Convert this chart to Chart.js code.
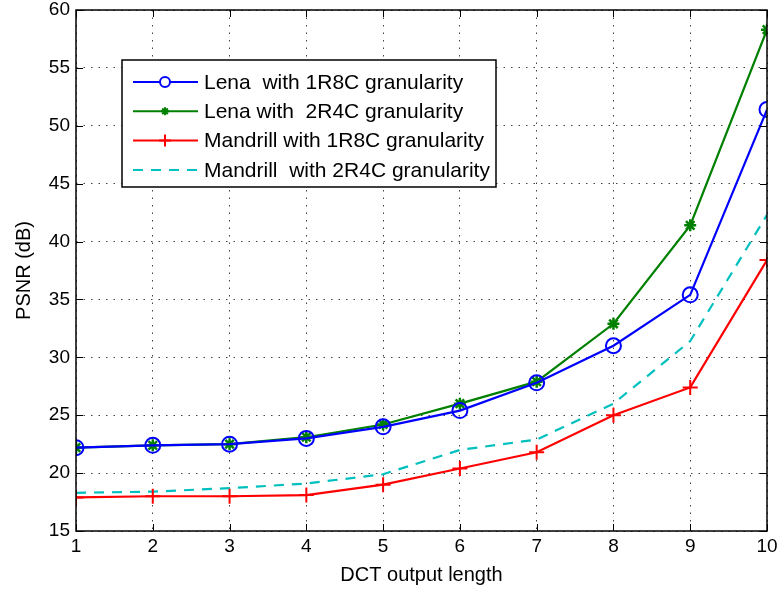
<!DOCTYPE html>
<html>
<head>
<meta charset="utf-8">
<script src="https://cdn.jsdelivr.net/npm/chart.js@4.4.0/dist/chart.umd.min.js"></script>
<style>
  html, body { margin: 0; padding: 0; background: #fff; }
  #wrap { width: 782px; height: 591px; }
</style>
</head>
<body>
<div id="wrap"><canvas id="myChart"></canvas></div>
<script>
// DCT output length
const lengths = [1, 2, 3, 4, 5, 6, 7, 8, 9, 10];
const lena1R8C = [22.2, 22.4, 22.5, 23.0, 24.0, 25.4, 27.8, 31.0, 35.4, 51.4];
const lena2R4C = [22.2, 22.4, 22.5, 23.1, 24.2, 26.0, 27.9, 32.9, 41.4, 58.3];
const mandrill1R8C = [17.9, 18.0, 18.0, 18.1, 19.0, 20.4, 21.8, 25.0, 27.4, 38.4];
const mandrill2R4C = [18.3, 18.4, 18.7, 19.1, 19.9, 22.0, 22.9, 26.0, 31.4, 42.3];
const yTicks = [15, 20, 25, 30, 35, 40, 45, 50, 55, 60];

const font = "Liberation Sans, Arial, sans-serif";

function pts(arr) {
	return arr.map((v, i) => ({ x: lengths[i], y: v }));
}

// box + inward ticks, matlab style
const boxPlugin = {
	id: "box",
	afterDatasetsDraw(chart) {
		const { ctx, chartArea: a, scales } = chart;
		ctx.save();
		ctx.strokeStyle = "#000";
		ctx.lineWidth = 1.5;
		ctx.strokeRect(a.left, a.top, a.right - a.left, a.bottom - a.top);
		ctx.lineWidth = 1;
		ctx.beginPath();
		lengths.forEach((v) => {
			const x = Math.round(scales.x.getPixelForValue(v)) + 0.5;
			ctx.moveTo(x, a.bottom); ctx.lineTo(x, a.bottom - 7);
			ctx.moveTo(x, a.top); ctx.lineTo(x, a.top + 7);
		});
		yTicks.forEach((v) => {
			const y = Math.round(scales.y.getPixelForValue(v)) + 0.5;
			ctx.moveTo(a.left, y); ctx.lineTo(a.left + 7, y);
			ctx.moveTo(a.right, y); ctx.lineTo(a.right - 7, y);
		});
		ctx.stroke();
		ctx.restore();
	},
};

// legend box inside the plot
const legendPlugin = {
	id: "innerLegend",
	afterDraw(chart) {
		const { ctx } = chart;
		const x0 = 122, y0 = 60, w = 374, h = 127;
		ctx.save();
		ctx.fillStyle = "#fff";
		ctx.fillRect(x0, y0, w, h);
		ctx.strokeStyle = "#000";
		ctx.lineWidth = 1.5;
		ctx.strokeRect(x0, y0, w, h);
		ctx.font = "21px " + font;
		ctx.textBaseline = "middle";
		chart.data.datasets.forEach((ds, i) => {
			const y = y0 + 22 + i * 29.3;
			ctx.strokeStyle = ds.borderColor;
			ctx.lineWidth = 2;
			ctx.setLineDash(ds.borderDash || []);
			ctx.beginPath();
			ctx.moveTo(x0 + 11, y); ctx.lineTo(x0 + 76, y);
			ctx.stroke();
			ctx.setLineDash([]);
			if (ds.pointRadius > 0) {
				ctx.strokeStyle = ds.borderColor;
				ctx.fillStyle = ds.pointStyle === "circle" ? "#fff" : ds.borderColor;
				Chart.helpers.drawPoint(ctx, {
					pointStyle: ds.pointStyle,
					radius: ds.legendRadius,
					borderWidth: 2,
				}, x0 + 43, y);
			}
			ctx.fillStyle = "#000";
			ctx.fillText(ds.label, x0 + 82, y + 1);
		});
		ctx.restore();
	},
};

const ctx = document.getElementById("myChart").getContext("2d");
const myChart = new Chart(ctx, {
	type: "line",
	data: {
		datasets: [
			{
				label: "Lena  with 1R8C granularity",
				data: pts(lena1R8C),
				borderColor: "#0000ff",
				pointStyle: "circle",
				pointRadius: 7.5,
				legendRadius: 5,
				pointBorderWidth: 2,
				pointBackgroundColor: "rgba(0,0,0,0)",
				pointBorderColor: "#0000ff",
			},
			{
				label: "Lena with  2R4C granularity",
				data: pts(lena2R4C),
				borderColor: "#008000",
				pointStyle: "star",
				pointRadius: 6,
				legendRadius: 4,
				pointBorderWidth: 2.5,
				pointBorderColor: "#008000",
			},
			{
				label: "Mandrill with 1R8C granularity",
				data: pts(mandrill1R8C),
				borderColor: "#ff0000",
				pointStyle: "cross",
				pointRadius: 7.5,
				legendRadius: 6,
				pointBorderWidth: 2,
				pointBorderColor: "#ff0000",
			},
			{
				label: "Mandrill  with 2R4C granularity",
				data: pts(mandrill2R4C),
				borderColor: "#00bfbf",
				borderDash: [10, 8],
				pointRadius: 0,
			},
		],
	},
	options: {
		animation: false,
		responsive: true,
		maintainAspectRatio: false,
		elements: { line: { borderWidth: 2.2, tension: 0 } },
		layout: { padding: { top: 10, right: 15, left: 0, bottom: 0 } },
		plugins: { legend: { display: false }, tooltip: { enabled: false } },
		scales: {
			x: {
				type: "linear",
				min: 1,
				max: 10,
				afterBuildTicks(s) { s.ticks = lengths.map((v) => ({ value: v })); },
				afterFit(s) { s.height = 60; s.paddingLeft = 0; s.paddingRight = 0; },
				grid: { color: "#444", lineWidth: 1, drawTicks: false },
				border: { display: false, dash: [1.5, 6] },
				ticks: { color: "#000", font: { family: font, size: 19 }, padding: 4, maxRotation: 0 },
				title: { display: true, text: "DCT output length", color: "#000", font: { family: font, size: 20 }, padding: { top: 0 } },
			},
			y: {
				min: 15,
				max: 60,
				afterBuildTicks(s) { s.ticks = yTicks.map((v) => ({ value: v })); },
				afterFit(s) { s.width = 76; s.paddingTop = 0; s.paddingBottom = 0; },
				grid: { color: "#444", lineWidth: 1, drawTicks: false },
				border: { display: false, dash: [1.5, 6] },
				ticks: { color: "#000", font: { family: font, size: 19 }, padding: 6 },
				title: { display: true, text: "PSNR (dB)", color: "#000", font: { family: font, size: 20 }, padding: { top: 12, bottom: 0 } },
			},
		},
	},
	plugins: [boxPlugin, legendPlugin],
});
</script>
</body>
</html>
